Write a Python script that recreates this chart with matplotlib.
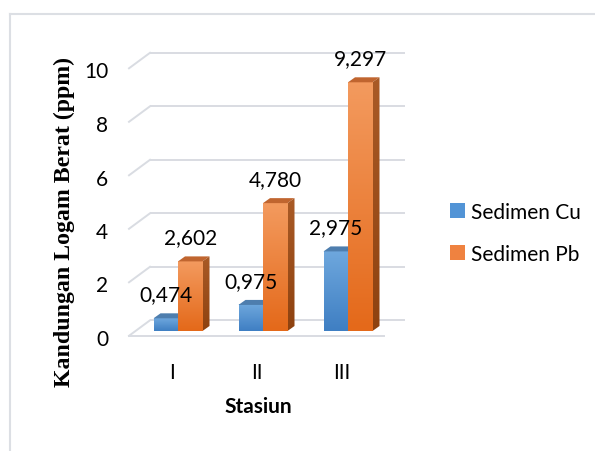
import numpy as np
import matplotlib
matplotlib.use("Agg")
import matplotlib.pyplot as plt
from matplotlib.colors import LinearSegmentedColormap
from matplotlib.patches import Polygon, Patch
from matplotlib.lines import Line2D
from matplotlib.transforms import ScaledTranslation

# ---- data ----
stations = ["I", "II", "III"]
cu_values = [0.474, 0.975, 2.975]
pb_values = [2.602, 4.780, 9.297]
cu_labels = ["0,474", "0,975", "2,975"]
pb_labels = ["2,602", "4,780", "9,297"]
y_ticks = [0, 2, 4, 6, 8, 10]
series_names = ["Sedimen Cu", "Sedimen Pb"]

W, H, DPI = 595, 452, 100
fig = plt.figure(figsize=(W / DPI, H / DPI), dpi=DPI)
fig.patch.set_facecolor("white")

# pixel geometry of the plot box
X0_PX, SX = 178.0, 85.0      # x=0 position and px per category
Y0_PX, SY = 332.0, 26.75     # value 0 position and px per unit
L, R, T, B = 115, 425, 35, 345
ax = fig.add_axes([L / W, (H - B) / H, (R - L) / W, (B - T) / H])
ax.set_xlim((L - X0_PX) / SX, (R - X0_PX) / SX)
ax.set_ylim((Y0_PX - B) / SY, (Y0_PX - T) / SY)
for s in ax.spines.values():
    s.set_visible(False)
ax.set_facecolor("none")

# oblique depth vector of the bar tops/sides
DX, DY = 7.0 / SX, 5.0 / SY

# back wall gridlines with left wall diagonals
grid_c = "#d9dce2"
back_dy = 10.7 / SY
wall_x0, wall_x1 = (150 - X0_PX) / SX, (405 - X0_PX) / SX
diag_x = (129 - X0_PX) / SX
diag_dy = 15.5 / SY
for v in y_ticks:
    yb = v + back_dy
    ax.plot([wall_x0, wall_x1], [yb, yb], color=grid_c, lw=1.4, zorder=1,
            solid_capstyle="butt")
    ax.plot([wall_x0, diag_x], [yb, yb - diag_dy], color=grid_c, lw=1.4, zorder=1)
# front edge of the floor
yf = back_dy - diag_dy
ax.plot([diag_x, wall_x1 + diag_x - wall_x0], [yf, yf], color=grid_c, lw=1.4, zorder=1)

bw = 24.5 / SX
x = np.arange(len(stations))

cu_cmap = LinearSegmentedColormap.from_list("cu", ["#3f7fc3", "#6ea7dd"])
pb_cmap = LinearSegmentedColormap.from_list("pb", ["#e4691a", "#f39a5e"])
side_cmap = LinearSegmentedColormap.from_list("pbs", ["#8e4210", "#a95a26"])


def draw_bars(xs, vals, cmap, top_c, side_c, z, side=True):
    bars = ax.bar(xs, vals, width=bw, align="edge", color="none",
                  edgecolor="none", zorder=z)
    grad = np.linspace(0, 1, 64).reshape(-1, 1)
    for rect in bars:
        x0, h = rect.get_x(), rect.get_height()
        x1 = x0 + rect.get_width()
        ax.imshow(grad, extent=[x0, x1, 0, h], origin="lower", cmap=cmap,
                  aspect="auto", zorder=z, interpolation="bilinear")
        ax.add_patch(Polygon([(x0, h), (x1, h), (x1 + DX, h + DY), (x0 + DX, h + DY)],
                             closed=True, facecolor=top_c, edgecolor="none", zorder=z))
        if side:
            sp = Polygon([(x1, 0), (x1, h), (x1 + DX, h + DY), (x1 + DX, DY)],
                         closed=True, facecolor="none", edgecolor="none", zorder=z)
            ax.add_patch(sp)
            im = ax.imshow(grad, extent=[x1, x1 + DX, 0, h + DY], origin="lower",
                           cmap=side_c, aspect="auto", zorder=z,
                           interpolation="bilinear")
            im.set_clip_path(sp)
    return bars


cu_bars = draw_bars(x - bw, cu_values, cu_cmap, "#4e7eae", None, 2, side=False)
pb_bars = draw_bars(x, pb_values, pb_cmap, "#c0652f", side_cmap, 4)

# value labels above the bars
for rect, lab in list(zip(cu_bars, cu_labels)) + list(zip(pb_bars, pb_labels)):
    ax.annotate(lab, (rect.get_x() + rect.get_width() / 2, rect.get_height()),
                xytext=(0, 24 * 0.72), textcoords="offset points",
                ha="center", va="center", fontsize=15, family="Lato",
                color="#000000", zorder=10)

ax.set_xlim((L - X0_PX) / SX, (R - X0_PX) / SX)
ax.set_ylim((Y0_PX - B) / SY, (Y0_PX - T) / SY)

# axis ticks
ax.set_yticks(y_ticks)
ax.set_yticklabels([str(v) for v in y_ticks], fontsize=15, family="Lato")
ax.tick_params(axis="y", length=0, pad=5)
for lbl in ax.get_yticklabels():
    lbl.set_transform(lbl.get_transform() + ScaledTranslation(0, -6 / DPI, fig.dpi_scale_trans))

ax.set_xticks(x)
ax.set_xticklabels(stations, fontsize=15, family="Lato")
ax.tick_params(axis="x", length=0, pad=13)
for lbl in ax.get_xticklabels():
    lbl.set_transform(lbl.get_transform() + ScaledTranslation(-6 / DPI, 0, fig.dpi_scale_trans))

fig.text(258 / W, 1 - 407 / H, "Stasiun", ha="center", va="center",
         fontsize=15, fontweight="bold", family="Lato")
fig.text(64 / W, 1 - 222 / H, "Kandungan Logam Berat (ppm)", rotation=90,
         ha="center", va="center", fontsize=17.2, fontweight="bold",
         family="Liberation Serif")

# legend
handles = [Patch(facecolor="#5294d6", edgecolor="none"),
           Patch(facecolor="#ef8240", edgecolor="none")]
fig.legend(handles, series_names, loc="upper left",
           bbox_to_anchor=(450 / W, 1 - 203 / H), frameon=False,
           prop={"family": "Lato", "size": 15}, handlelength=0.72,
           handleheight=0.72, handletextpad=0.3, labelspacing=1.05,
           borderpad=0, borderaxespad=0)

# outer frame of the chart area
fig.add_artist(Line2D([10 / W, 1], [1 - 15 / H, 1 - 15 / H], color="#dcdfe4", lw=1.5))
fig.add_artist(Line2D([10 / W, 10 / W], [0, 1 - 15 / H], color="#dcdfe4", lw=1.5))

fig.savefig("out.png", dpi=DPI)
